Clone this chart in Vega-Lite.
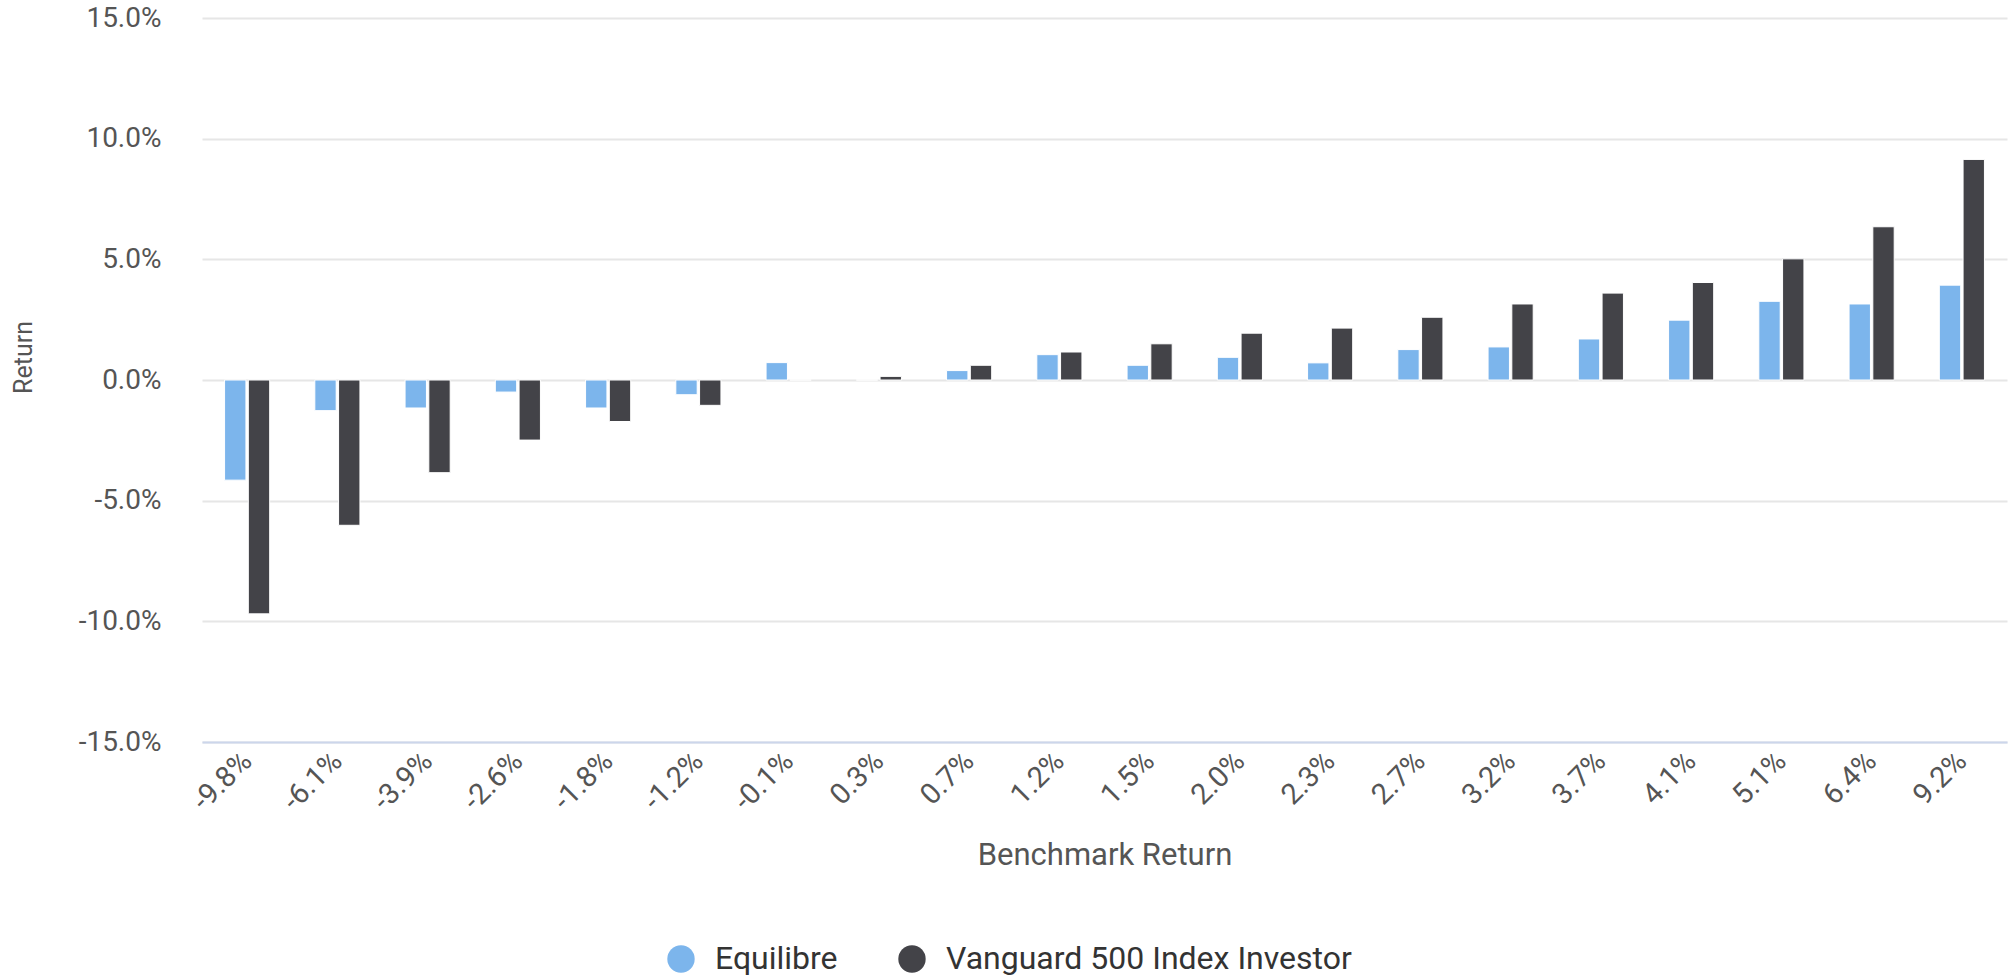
{
  "$schema": "https://vega.github.io/schema/vega-lite/v6.json",
  "width": 1805,
  "height": 724,
  "autosize": {"type": "none"},
  "padding": {"left": 202, "top": 18, "right": 9, "bottom": 238},
  "background": "white",
  "config": {
    "view": {"stroke": null},
    "font": "Roboto"
  },
  "data": {
    "values": [
      {"benchmark": "-9.8%", "series": "Equilibre", "ret": -4.15},
      {"benchmark": "-9.8%", "series": "Vanguard 500 Index Investor", "ret": -9.69},
      {"benchmark": "-6.1%", "series": "Equilibre", "ret": -1.27},
      {"benchmark": "-6.1%", "series": "Vanguard 500 Index Investor", "ret": -6.02},
      {"benchmark": "-3.9%", "series": "Equilibre", "ret": -1.16},
      {"benchmark": "-3.9%", "series": "Vanguard 500 Index Investor", "ret": -3.84},
      {"benchmark": "-2.6%", "series": "Equilibre", "ret": -0.5},
      {"benchmark": "-2.6%", "series": "Vanguard 500 Index Investor", "ret": -2.49},
      {"benchmark": "-1.8%", "series": "Equilibre", "ret": -1.16},
      {"benchmark": "-1.8%", "series": "Vanguard 500 Index Investor", "ret": -1.72},
      {"benchmark": "-1.2%", "series": "Equilibre", "ret": -0.61},
      {"benchmark": "-1.2%", "series": "Vanguard 500 Index Investor", "ret": -1.05},
      {"benchmark": "-0.1%", "series": "Equilibre", "ret": 0.72},
      {"benchmark": "-0.1%", "series": "Vanguard 500 Index Investor", "ret": 0},
      {"benchmark": "0.3%", "series": "Equilibre", "ret": 0},
      {"benchmark": "0.3%", "series": "Vanguard 500 Index Investor", "ret": 0.15},
      {"benchmark": "0.7%", "series": "Equilibre", "ret": 0.39},
      {"benchmark": "0.7%", "series": "Vanguard 500 Index Investor", "ret": 0.61},
      {"benchmark": "1.2%", "series": "Equilibre", "ret": 1.05},
      {"benchmark": "1.2%", "series": "Vanguard 500 Index Investor", "ret": 1.16},
      {"benchmark": "1.5%", "series": "Equilibre", "ret": 0.61},
      {"benchmark": "1.5%", "series": "Vanguard 500 Index Investor", "ret": 1.5},
      {"benchmark": "2.0%", "series": "Equilibre", "ret": 0.94},
      {"benchmark": "2.0%", "series": "Vanguard 500 Index Investor", "ret": 1.94},
      {"benchmark": "2.3%", "series": "Equilibre", "ret": 0.71},
      {"benchmark": "2.3%", "series": "Vanguard 500 Index Investor", "ret": 2.15},
      {"benchmark": "2.7%", "series": "Equilibre", "ret": 1.26},
      {"benchmark": "2.7%", "series": "Vanguard 500 Index Investor", "ret": 2.6},
      {"benchmark": "3.2%", "series": "Equilibre", "ret": 1.37},
      {"benchmark": "3.2%", "series": "Vanguard 500 Index Investor", "ret": 3.15},
      {"benchmark": "3.7%", "series": "Equilibre", "ret": 1.7},
      {"benchmark": "3.7%", "series": "Vanguard 500 Index Investor", "ret": 3.6},
      {"benchmark": "4.1%", "series": "Equilibre", "ret": 2.48},
      {"benchmark": "4.1%", "series": "Vanguard 500 Index Investor", "ret": 4.04},
      {"benchmark": "5.1%", "series": "Equilibre", "ret": 3.26},
      {"benchmark": "5.1%", "series": "Vanguard 500 Index Investor", "ret": 5.02},
      {"benchmark": "6.4%", "series": "Equilibre", "ret": 3.15},
      {"benchmark": "6.4%", "series": "Vanguard 500 Index Investor", "ret": 6.35},
      {"benchmark": "9.2%", "series": "Equilibre", "ret": 3.93},
      {"benchmark": "9.2%", "series": "Vanguard 500 Index Investor", "ret": 9.14}
    ]
  },
  "mark": {"type": "bar", "stroke": "white", "strokeWidth": 1},
  "encoding": {
    "x": {
      "field": "benchmark",
      "type": "nominal",
      "sort": ["-9.8%", "-6.1%", "-3.9%", "-2.6%", "-1.8%", "-1.2%", "-0.1%", "0.3%", "0.7%", "1.2%", "1.5%", "2.0%", "2.3%", "2.7%", "3.2%", "3.7%", "4.1%", "5.1%", "6.4%", "9.2%"],
      "scale": {"paddingInner": 0.5, "paddingOuter": 0.25},
      "axis": {
        "title": "Benchmark Return",
        "labelAngle": -45,
        "labelAlign": "right",
        "labelBaseline": "middle",
        "labelFont": "Roboto",
        "labelFontSize": 29,
        "labelColor": "#555555",
        "labelPadding": 14,
        "ticks": false,
        "domain": true,
        "domainColor": "#ccd6eb",
        "domainWidth": 2,
        "titleFont": "Roboto",
        "titleFontSize": 31,
        "titleFontWeight": "normal",
        "titleColor": "#555555",
        "titleBaseline": "middle",
        "titleY": 113
      }
    },
    "xOffset": {
      "field": "series",
      "type": "nominal",
      "scale": {"paddingInner": 0.1}
    },
    "y": {
      "field": "ret",
      "type": "quantitative",
      "scale": {"domain": [-15, 15], "nice": false, "zero": false},
      "axis": {
        "title": "Return",
        "values": [-15, -10, -5, 0, 5, 10, 15],
        "labelExpr": "(datum.value < 0 ? '-' : '') + format(abs(datum.value), '.1f') + '%'",
        "labelFont": "Roboto",
        "labelFontSize": 28,
        "labelColor": "#555555",
        "labelPadding": 41,
        "ticks": false,
        "domain": false,
        "grid": true,
        "gridColor": "#e6e6e6",
        "gridWidth": 2,
        "titleFont": "Roboto",
        "titleFontSize": 25,
        "titleFontWeight": "normal",
        "titleColor": "#555555",
        "titleBaseline": "middle",
        "titleAlign": "center",
        "titleAngle": -90,
        "titleX": -179,
        "titleY": 339
      }
    },
    "color": {
      "field": "series",
      "type": "nominal",
      "scale": {"domain": ["Equilibre", "Vanguard 500 Index Investor"], "range": ["#7cb5ec", "#434348"]},
      "legend": {
        "title": null,
        "orient": "none",
        "direction": "horizontal",
        "legendX": 463,
        "legendY": 925,
        "symbolType": "circle",
        "symbolSize": 750,
        "symbolStrokeWidth": 0,
        "labelFont": "Roboto",
        "labelFontSize": 32,
        "labelColor": "#333333",
        "labelOffset": 18,
        "columnPadding": 58,
        "labelLimit": 700
      }
    }
  }
}
